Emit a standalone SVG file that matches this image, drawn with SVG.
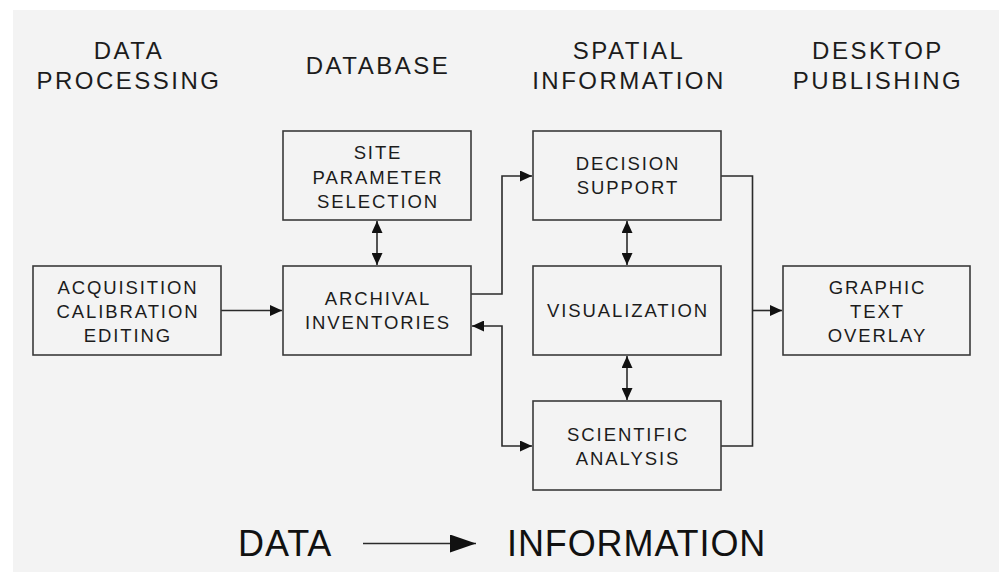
<svg xmlns="http://www.w3.org/2000/svg" width="1000" height="572" viewBox="0 0 1000 572">
  <defs>
    <style>
      .bg { fill: #f3f3f3; }
      .box { fill: #f3f3f3; stroke: #3a3a3a; stroke-width: 1.6; }
      .hdr { font-family: "Liberation Sans", Arial, sans-serif; font-size: 24px; letter-spacing: 2.5px; fill: #1c1c1c; text-anchor: middle; }
      .lbl { font-family: "Liberation Sans", Arial, sans-serif; font-size: 18.5px; letter-spacing: 1.9px; fill: #1c1c1c; text-anchor: middle; }
      .big { font-family: "Liberation Sans", Arial, sans-serif; font-size: 36px; letter-spacing: 0.9px; fill: #111; }
      .con { fill: none; stroke: #2a2a2a; stroke-width: 1.6; }
    </style>
    <marker id="ah" viewBox="0 0 12 11" refX="12" refY="5.5" markerWidth="12" markerHeight="11" markerUnits="userSpaceOnUse" orient="auto-start-reverse">
      <path d="M0,0 L12,5.5 L0,11 z" fill="#111"/>
    </marker>
    <marker id="bigah" viewBox="0 0 26 18" refX="26" refY="9" markerWidth="26" markerHeight="18" markerUnits="userSpaceOnUse" orient="auto">
      <path d="M0,0 L26,9 L0,18 z" fill="#111"/>
    </marker>
  </defs>

  <rect x="0" y="0" width="1000" height="572" fill="#ffffff"/>
  <rect class="bg" x="13" y="10" width="986" height="562"/>

  <g id="headers">
    <text class="hdr" x="129" y="59">DATA</text>
    <text class="hdr" x="129" y="89">PROCESSING</text>
    <text class="hdr" x="378" y="74">DATABASE</text>
    <text class="hdr" x="629" y="59">SPATIAL</text>
    <text class="hdr" x="629" y="89">INFORMATION</text>
    <text class="hdr" x="878" y="59">DESKTOP</text>
    <text class="hdr" x="878" y="89">PUBLISHING</text>
  </g>

  <g id="connectors">
    <path class="con" d="M221,310.5 H282" marker-end="url(#ah)"/>
    <path class="con" d="M377,221 V265" marker-start="url(#ah)" marker-end="url(#ah)"/>
    <path class="con" d="M471,294 H502 V176 H532" marker-end="url(#ah)"/>
    <path class="con" d="M472,326 H502 V446 H532" marker-start="url(#ah)" marker-end="url(#ah)"/>
    <path class="con" d="M627,221 V265" marker-start="url(#ah)" marker-end="url(#ah)"/>
    <path class="con" d="M627,356 V400" marker-start="url(#ah)" marker-end="url(#ah)"/>
    <path class="con" d="M721,176 H752.5 V446 H721"/>
    <path class="con" d="M752.5,310.5 H782" marker-end="url(#ah)"/>
  </g>

  <g id="acquisition">
    <rect class="box" x="33" y="266" width="188" height="89"/>
    <text class="lbl" x="128" y="293.5">ACQUISITION</text>
    <text class="lbl" x="128" y="317.5">CALIBRATION</text>
    <text class="lbl" x="128" y="341.5">EDITING</text>
  </g>

  <g id="site-parameter">
    <rect class="box" x="283" y="131" width="188" height="89"/>
    <text class="lbl" x="378" y="159">SITE</text>
    <text class="lbl" x="378" y="183.5">PARAMETER</text>
    <text class="lbl" x="378" y="207.5">SELECTION</text>
  </g>

  <g id="archival">
    <rect class="box" x="283" y="266" width="188" height="89"/>
    <text class="lbl" x="378" y="305">ARCHIVAL</text>
    <text class="lbl" x="378" y="329">INVENTORIES</text>
  </g>

  <g id="decision">
    <rect class="box" x="533" y="131" width="188" height="89"/>
    <text class="lbl" x="628" y="170">DECISION</text>
    <text class="lbl" x="628" y="194">SUPPORT</text>
  </g>

  <g id="visualization">
    <rect class="box" x="533" y="266" width="188" height="89"/>
    <text class="lbl" x="628" y="317">VISUALIZATION</text>
  </g>

  <g id="scientific">
    <rect class="box" x="533" y="401" width="188" height="89"/>
    <text class="lbl" x="628" y="440.5">SCIENTIFIC</text>
    <text class="lbl" x="628" y="464.5">ANALYSIS</text>
  </g>

  <g id="graphic">
    <rect class="box" x="783" y="266" width="187" height="89"/>
    <text class="lbl" x="877.5" y="293.5">GRAPHIC</text>
    <text class="lbl" x="877.5" y="317.5">TEXT</text>
    <text class="lbl" x="877.5" y="341.5">OVERLAY</text>
  </g>

  <g id="footer">
    <text class="big" x="238" y="556">DATA</text>
    <path class="con" d="M363,543.5 H476" stroke-width="2.2" marker-end="url(#bigah)"/>
    <text class="big" x="507" y="556">INFORMATION</text>
  </g>
</svg>
